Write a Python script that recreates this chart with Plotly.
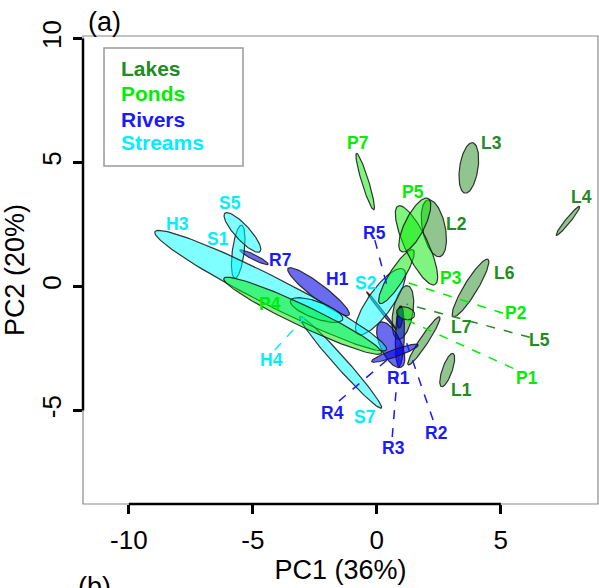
import numpy as np
import plotly.graph_objects as go

# ---------------- data ----------------
groups = ["Lakes", "Ponds", "Rivers", "Streams"]
draw_order = ["Lakes", "Rivers", "Streams", "Ponds"]
text_colors = {"Lakes": "#228B22", "Ponds": "#00EE00", "Rivers": "#1A1AFF", "Streams": "#00EEFF"}
fill_colors = {"Lakes": "rgba(34,139,34,0.5)", "Ponds": "rgba(0,235,0,0.5)",
               "Rivers": "rgba(0,0,230,0.58)", "Streams": "rgba(0,255,255,0.5)"}

# ellipses: name, group, centre x, centre y, semi-major, semi-minor, angle (deg)
ell_names = ["L1", "L2", "L3", "L4", "L5", "L6", "L7",
             "P1", "P2", "P3", "P4", "P5", "P7",
             "R1", "R2", "R3", "R4", "R5", "R7", "H1",
             "S1", "S2", "S5", "S7", "H3", "H4"]
ell_group = ["Lakes"] * 7 + ["Ponds"] * 6 + ["Rivers"] * 7 + ["Streams"] * 6
ell_cx = [2.84, 2.30, 3.71, 7.71, 1.05, 3.78, 1.90,
          1.16, 0.79, 1.60, -2.99, 1.53, -0.47,
          0.93, 0.93, 0.56, 0.73, 0.19, -4.95, -2.35,
          -5.59, 0.15, -5.42, -1.46, -4.28, -2.43]
ell_cy = [-3.37, 2.35, 4.78, 2.65, -1.05, -0.06, -2.19,
          -1.08, 0.40, 1.66, -1.18, 2.48, 4.23,
          -2.02, -1.23, -2.35, -2.69, -0.98, 1.18, -0.21,
          1.40, -0.61, 2.18, -3.06, -0.17, -0.95]
ell_a = [0.71, 1.17, 1.03, 0.75, 1.10, 1.35, 1.16,
         0.37, 1.27, 1.75, 3.52, 1.20, 1.19,
         1.21, 0.45, 1.00, 1.00, 0.98, 0.64, 1.55,
         1.08, 1.60, 1.05, 2.47, 5.24, 1.12]
ell_b = [0.20, 0.46, 0.37, 0.10, 0.40, 0.27, 0.17,
         0.25, 0.30, 0.47, 0.42, 0.40, 0.14,
         0.18, 0.12, 0.42, 0.15, 0.05, 0.10, 0.30,
         0.24, 0.50, 0.30, 0.23, 0.57, 0.34]
ell_angle = [70.7, 101.6, 81.4, 51.0, 80.0, 58.6, 56.7,
             -15.0, 58.0, -65.0, -25.4, 63.4, 107.0,
             88.0, 85.0, -65.0, 19.7, -52.0, -26.8, -37.4,
             82.8, 54.6, -47.6, -48.3, -27.0, -20.0]

# text labels: name, x, y
lab_names = ["L1", "L2", "L3", "L4", "L5", "L6", "L7",
             "P1", "P2", "P3", "P4", "P5", "P7",
             "R1", "R2", "R3", "R4", "R5", "R7", "H1",
             "S1", "S2", "S5", "S7", "H3", "H4"]
lab_x = [3.41, 3.21, 4.62, 8.25, 6.57, 5.16, 3.41,
         6.04, 5.63, 3.01, -4.31, 1.47, -0.79,
         0.86, 2.41, 0.69, -1.79, -0.08, -3.91, -1.60,
         -6.40, -0.44, -5.93, -0.48, -8.05, -4.25]
lab_y = [-4.17, 2.52, 5.77, 3.62, -2.16, 0.56, -1.62,
         -3.70, -1.08, 0.33, -0.71, 3.82, 5.80,
         -3.70, -5.89, -6.52, -5.09, 2.15, 1.07, 0.29,
         1.90, 0.15, 3.35, -5.27, 2.52, -2.96]

# dashed leader lines: group, start (near label), end (group centroid)
lead_group = ["Lakes", "Ponds", "Ponds", "Rivers", "Rivers", "Rivers", "Rivers", "Streams"]
lead_x0 = [6.17, 5.09, 5.50, -0.08, -1.53, 0.62, 2.27, -4.11]
lead_y0 = [-2.05, -1.08, -3.30, 1.87, -4.62, -6.07, -5.38, -2.56]
lead_x1 = [1.20, 0.93, 1.20, 0.42, 0.73, 0.93, 1.09, -2.83]
lead_y1 = [-0.71, 0.26, -1.35, -0.01, -2.69, -2.36, -1.96, -1.15]

x_ticks = [-10, -5, 0, 5]
y_ticks = [-5, 0, 5, 10]
x_range = [-11.85, 8.92]
y_range = [-8.77, 10.1]

# ---------------- figure ----------------
FONT = "Liberation Sans, Arial, sans-serif"
fig = go.Figure()

t = np.linspace(0, 2 * np.pi, 120)
for grp in draw_order:
    for name, g, cx, cy, a, b, ang in zip(ell_names, ell_group, ell_cx, ell_cy, ell_a, ell_b, ell_angle):
        if g != grp:
            continue
        th = np.deg2rad(ang)
        xs = cx + a * np.cos(t) * np.cos(th) - b * np.sin(t) * np.sin(th)
        ys = cy + a * np.cos(t) * np.sin(th) + b * np.sin(t) * np.cos(th)
        fig.add_trace(go.Scatter(x=xs, y=ys, mode="lines", fill="toself",
                                 fillcolor=fill_colors[g],
                                 line=dict(color="rgba(20,20,20,0.85)", width=1.2),
                                 hoverinfo="skip", showlegend=False, name=name))

for g, x0, y0, x1, y1 in zip(lead_group, lead_x0, lead_y0, lead_x1, lead_y1):
    fig.add_trace(go.Scatter(x=[x0, x1], y=[y0, y1], mode="lines",
                             line=dict(color=text_colors[g], width=1.5, dash="dash"),
                             hoverinfo="skip", showlegend=False))

for name, g, x, y in zip(lab_names, ell_group, lab_x, lab_y):
    fig.add_annotation(x=x, y=y, text="<b>%s</b>" % name, showarrow=False,
                       font=dict(family=FONT, size=17.5, color=text_colors[g]),
                       xanchor="center", yanchor="middle")

# frame
fig.add_shape(type="rect", xref="paper", yref="paper", x0=0, y0=0, x1=1, y1=1,
              line=dict(color="#8a8a8a", width=1.2), layer="above")
# axis lines spanning the tick range (R style)
fig.add_shape(type="line", xref="x", yref="paper", x0=x_ticks[0], x1=x_ticks[-1], y0=0, y1=0,
              line=dict(color="black", width=2.5), layer="above")
fig.add_shape(type="line", xref="paper", yref="y", x0=0, x1=0, y0=y_ticks[0], y1=y_ticks[-1],
              line=dict(color="black", width=2.5), layer="above")

# legend box
fig.add_shape(type="rect", xref="paper", yref="paper", x0=0.0408, y0=0.7222, x1=0.3107, y1=0.9744,
              line=dict(color="#9a9a9a", width=1.5), fillcolor="white", layer="above")
leg_y = [0.9295, 0.8761, 0.8226, 0.7714]
for g, yy in zip(groups, leg_y):
    fig.add_annotation(xref="paper", yref="paper", x=0.0705, y=yy, text="<b>%s</b>" % g,
                       showarrow=False, xanchor="left", yanchor="middle",
                       font=dict(family=FONT, size=21, color=text_colors[g]))

# panel letters
fig.add_annotation(xref="paper", yref="paper", x=(86 - 83) / 515, y=(504 - 21.5) / 468, text="(a)",
                   showarrow=False, xanchor="left", yanchor="middle",
                   font=dict(family=FONT, size=27, color="black"))
fig.add_annotation(xref="paper", yref="paper", x=(76 - 83) / 515, y=(504 - 570) / 468, text="(b)",
                   showarrow=False, xanchor="left", yanchor="top",
                   font=dict(family=FONT, size=27, color="black"))

fig.update_layout(
    width=599, height=588, autosize=False,
    margin=dict(l=83, r=1, t=36, b=84),
    paper_bgcolor="white", plot_bgcolor="white",
    font=dict(family=FONT, color="black"),
    xaxis=dict(range=x_range, tickvals=x_ticks, ticktext=[str(v) for v in x_ticks],
               ticks="outside", ticklen=9, tickwidth=2.5, tickcolor="black",
               showgrid=False, zeroline=False, showline=False, automargin=False,
               ticklabelstandoff=4,
               tickfont=dict(size=26, family=FONT),
               title=dict(text="PC1 (36%)", font=dict(size=27, family=FONT), standoff=5)),
    yaxis=dict(range=y_range, tickvals=y_ticks, ticktext=[str(v) for v in y_ticks],
               ticks="outside", ticklen=9, tickwidth=2.5, tickcolor="black",
               showgrid=False, zeroline=False, showline=False, tickangle=-90, automargin=False,
               ticklabelstandoff=2,
               tickfont=dict(size=26, family=FONT),
               title=dict(text="PC2 (20%)", font=dict(size=27, family=FONT), standoff=4)),
)

fig.write_html("out.html", config={"displayModeBar": False},
               post_script="document.body.style.margin='0';document.body.style.overflow='hidden';")
